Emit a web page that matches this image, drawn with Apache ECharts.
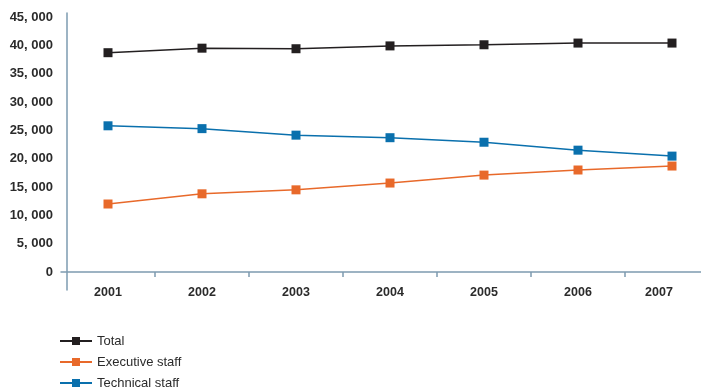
<!DOCTYPE html>
<html>
<head>
<meta charset="utf-8">
<script src="https://cdn.jsdelivr.net/npm/echarts@6/dist/echarts.min.js"></script>
<style>
html,body{margin:0;padding:0;background:#fff;}
#c{width:701px;height:392px;}
</style>
</head>
<body>
<div id="c"></div>
<script>
const years = ['2001', '2002', '2003', '2004', '2005', '2006', '2007'];
const totalStaff = [38700, 39500, 39400, 39900, 40100, 40400, 40400];
const executiveStaff = [12000, 13800, 14500, 15700, 17100, 18000, 18700];
const technicalStaff = [25800, 25300, 24150, 23700, 22900, 21500, 20450];
const seriesNames = ['Total', 'Executive staff', 'Technical staff'];

const axisColor = '#7d9bb0';
const textColor = '#2b2b2b';
const font = "'Liberation Sans', Arial, sans-serif";

const chart = echarts.init(document.getElementById('c'), null, {renderer: 'canvas'});

function fmt(v) {
  if (v === 0) return '0';
  const s = String(Math.round(v));
  return s.slice(0, s.length - 3) + ', ' + s.slice(s.length - 3);
}

function mkSeries(name, data, color) {
  return {
    name: name,
    type: 'line',
    data: data,
    symbol: 'rect',
    symbolSize: 9,
    itemStyle: {color: color},
    lineStyle: {color: color, width: 1.5},
    emphasis: {disabled: true},
    animation: false
  };
}

chart.setOption({
  animation: false,
  backgroundColor: '#fff',
  grid: {left: 61, right: -18, top: 13, bottom: 102, containLabel: false, outerBoundsMode: 'none'},
  legend: {
    orient: 'vertical',
    left: 59,
    top: 334.5,
    padding: 0,
    itemWidth: 32,
    itemHeight: 10,
    itemGap: 8,
    data: seriesNames,
    textStyle: {fontFamily: font, fontSize: 13, lineHeight: 13, color: textColor}
  },
  xAxis: [{
    type: 'category',
    data: years,
    boundaryGap: true,
    position: 'bottom',
    offset: -13,
    axisLine: {show: true, lineStyle: {color: axisColor, width: 1.5}},
    axisTick: {show: true, length: 5, interval: function (i) { return i > 0; }, lineStyle: {color: axisColor, width: 1.5}},
    axisLabel: {
      margin: 9,
      fontFamily: font,
      fontSize: 12.5,
      fontWeight: 'bold',
      color: textColor,
      formatter: function (v, i) { return i === years.length - 1 ? '{last|' + v + '}' : v; },
      rich: {last: {padding: [0, 26, 0, 0], fontFamily: font, fontSize: 12.5, fontWeight: 'bold', color: textColor}}
    },
    splitLine: {show: false}
  }, {
    type: 'category',
    data: years,
    boundaryGap: true,
    position: 'bottom',
    offset: -13,
    axisLine: {show: false},
    axisTick: {show: true, inside: true, length: 5, interval: function (i) { return i > 0; }, lineStyle: {color: axisColor, width: 1.5}},
    axisLabel: {show: false},
    splitLine: {show: false}
  }],
  yAxis: {
    type: 'value',
    min: -3176,
    max: 45706,
    splitNumber: 10,
    minInterval: 5000,
    maxInterval: 5000,
    offset: -6,
    axisLine: {show: true, lineStyle: {color: axisColor, width: 1.5}},
    axisTick: {show: false},
    splitLine: {show: false},
    axisLabel: {
      margin: 14,
      showMinLabel: false,
      showMaxLabel: false,
      fontFamily: font,
      fontSize: 13,
      fontWeight: 'bold',
      color: textColor,
      formatter: fmt
    }
  },
  series: [
    mkSeries(seriesNames[0], totalStaff, '#231f20'),
    mkSeries(seriesNames[1], executiveStaff, '#e8692a'),
    mkSeries(seriesNames[2], technicalStaff, '#0a70ad')
  ]
});
</script>
</body>
</html>
